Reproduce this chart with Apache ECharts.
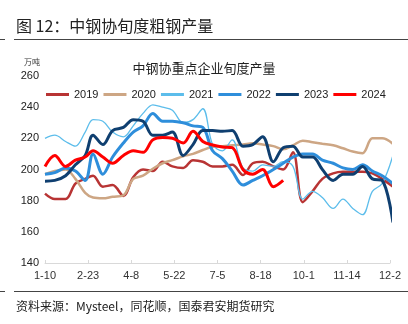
<!DOCTYPE html>
<html><head><meta charset="utf-8">
<script src="https://cdn.jsdelivr.net/npm/echarts@6/dist/echarts.min.js"></script>
<style>html,body{margin:0;padding:0;background:#fff}#c{width:408px;height:324px}</style>
</head><body><div id="c"></div>
<script>
// dekad end dates (plotted on a reference year)
const dekads = ['1-10','1-20','1-31','2-10','2-20','2-28','3-10','3-20','3-31','4-10','4-20','4-30',
  '5-10','5-20','5-31','6-10','6-20','6-30','7-10','7-20','7-31','8-10','8-20','8-31',
  '9-10','9-20','9-30','10-10','10-20','10-31','11-10','11-20','11-30','12-10','12-20','12-31'];
const tickLabels = ['1-10','2-23','4-8','5-22','7-5','8-18','10-1','11-14','12-2'];
const yTicks = [140,160,180,200,220,240,260];
const years = ['2019','2020','2021','2022','2023','2024'];
const s2019 = [184.5,181,181,191,194,196,189,190,183,195,200,199,205,202,201,206,205,202,202,203,196.5,204,205,202,200,211,179,186,194,197.5,198.5,198.5,198.5,197.5,194,189];
const s2020 = [197,199,200,194,185,182,181.5,182.5,183.5,194,196,200.5,204,206,208.5,210,212.5,214.6,215,215.5,216,216.8,216,215,213,215.5,218.5,217.5,216.5,215.5,213.6,211.5,210.5,220,220,216.5];
const s2021 = [220,222,218,215,224,232,231,224,221,228,236,241.5,240,238,230,232,239,216,212,219,201,199,203,202,205,202,181,186,182,175,181,175,171,186,191,209];
const s2022 = [197,198,201,199,193,210,197,208,217,224,228,236,231,231,230,228,227,212,207,199,190,193,196,200,204,208,210,210,206,204,201,200,203,199,196,191];
const s2023 = [192.5,193,196,203,209,222,216,225,227,232,231,222,222,224,209,216,225,225,224.5,225,215,216,221,205,214,215,208,208,200,193,197,197,202,194,193,166];
const s2024 = [202,209,202,206,208,212,208,204,209,212,211,219,220.5,220,217,224.5,218,215.7,214.5,214,200,197,200,189,193];
const seriesValues = [s2019,s2020,s2021,s2022,s2023,s2024];
const colors = ['#B83434','#CDA684','#5CBDEB','#2E8EDB','#0F3F70','#FF0000'];
const widths = [2.5,2.5,1.3,3,3,3];

function dayOffset(s){const p=s.split('-').map(Number);return (Date.UTC(2023,p[0]-1,p[1])-Date.UTC(2023,0,10))/86400000;}

const chart = echarts.init(document.getElementById('c'), null, {renderer:'canvas'});
const font = 'Liberation Sans, Arial, sans-serif';
const cjk = '"Noto Sans CJK SC", sans-serif';
chart.setOption({
  animation:false,
  backgroundColor:'#fff',
  title:{text:'中钢协重点企业旬度产量',left:'center',top:57,textStyle:{fontSize:13,fontWeight:'normal',color:'#222',fontFamily:cjk}},
  legend:{top:84,left:41,itemWidth:23,itemHeight:3,itemGap:5,icon:'rect',
    textStyle:{fontSize:11,color:'#222',fontFamily:font},data:years},
  grid:{left:45,right:18,top:76,bottom:61,containLabel:false},
  xAxis:{type:'value',min:0,max:352,interval:44,
    axisLine:{show:true,lineStyle:{color:'#D9D9D9',width:1}},
    axisTick:{show:true,inside:true,length:3,lineStyle:{color:'#D9D9D9'}},
    splitLine:{show:false},
    axisLabel:{margin:7,fontSize:11,color:'#333',fontFamily:font,
      formatter:v=>(v%44===0?tickLabels[v/44]:'')}},
  yAxis:{type:'value',min:yTicks[0],max:yTicks[yTicks.length-1],interval:20,
    axisLine:{show:false},axisTick:{show:false},splitLine:{show:false},
    axisLabel:{margin:6,fontSize:11,color:'#222',fontFamily:font}},
  graphic:[
    {type:'text',left:16,top:18,style:{text:'图 12：中钢协旬度粗钢产量',fontSize:16,fill:'#222',fontFamily:cjk}},
    {type:'line',shape:{x1:14,y1:39.5,x2:408,y2:39.5},style:{stroke:'#444',lineWidth:1}},
    {type:'line',shape:{x1:0,y1:39.5,x2:5,y2:39.5},style:{stroke:'#444',lineWidth:1}},
    {type:'text',left:24,top:58,style:{text:'万吨',fontSize:8,fill:'#333',fontFamily:cjk}},
    {type:'line',shape:{x1:14,y1:291.5,x2:408,y2:291.5},style:{stroke:'#444',lineWidth:1}},
    {type:'line',shape:{x1:0,y1:291.5,x2:5,y2:291.5},style:{stroke:'#444',lineWidth:1}},
    {type:'text',left:16,top:300,style:{text:'资料来源：Mysteel，同花顺，国泰君安期货研究',fontSize:12,fill:'#222',fontFamily:cjk}}
  ],
  series: years.map((y,i)=>({
    name:y,type:'line',smooth:0.35,showSymbol:false,symbol:'none',clip:false,
    lineStyle:{color:colors[i],width:widths[i]},itemStyle:{color:colors[i]},
    data: seriesValues[i].map((v,k)=>[dayOffset(dekads[k]),v])
  }))
});
</script></body></html>
